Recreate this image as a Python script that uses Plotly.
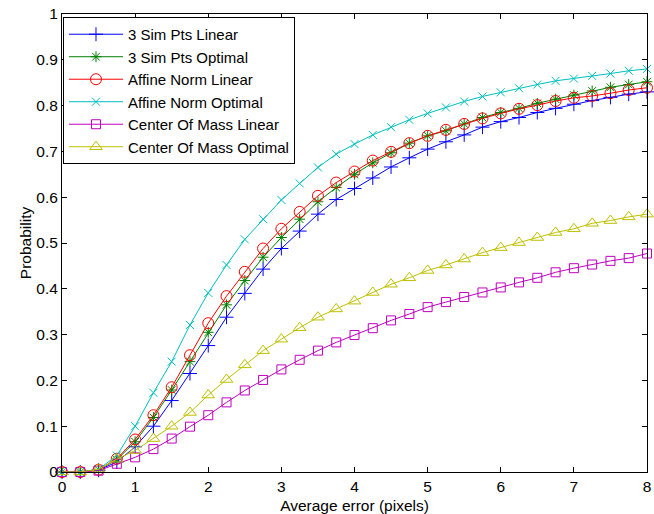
import plotly.graph_objects as go

x_vals = [0, 0.25, 0.5, 0.75, 1, 1.25, 1.5, 1.75, 2, 2.25, 2.5, 2.75, 3, 3.25, 3.5, 3.75,
          4, 4.25, 4.5, 4.75, 5, 5.25, 5.5, 5.75, 6, 6.25, 6.5, 6.75, 7, 7.25, 7.5, 7.75, 8]

sim_linear = [0, 0, 0.004, 0.022, 0.055, 0.100, 0.156, 0.215, 0.276, 0.338, 0.390, 0.443, 0.488,
              0.526, 0.563, 0.595, 0.619, 0.642, 0.666, 0.686, 0.705, 0.721, 0.736, 0.753, 0.765,
              0.774, 0.785, 0.794, 0.803, 0.811, 0.818, 0.825, 0.830]
sim_optimal = [0, 0, 0.005, 0.027, 0.066, 0.119, 0.179, 0.241, 0.305, 0.365, 0.418, 0.469, 0.512,
               0.552, 0.590, 0.621, 0.650, 0.675, 0.697, 0.718, 0.734, 0.745, 0.760, 0.774, 0.785,
               0.794, 0.805, 0.814, 0.823, 0.832, 0.840, 0.846, 0.852]
aff_linear = [0, 0, 0.005, 0.029, 0.071, 0.124, 0.185, 0.255, 0.325, 0.384, 0.437, 0.488, 0.531,
              0.568, 0.603, 0.632, 0.656, 0.680, 0.699, 0.718, 0.734, 0.747, 0.760, 0.772, 0.783,
              0.793, 0.801, 0.810, 0.817, 0.821, 0.827, 0.834, 0.839]
aff_optimal = [0, 0, 0.006, 0.036, 0.100, 0.173, 0.241, 0.321, 0.391, 0.452, 0.508, 0.552, 0.594,
               0.630, 0.665, 0.694, 0.716, 0.736, 0.753, 0.769, 0.783, 0.796, 0.809, 0.820, 0.829,
               0.838, 0.846, 0.854, 0.859, 0.865, 0.870, 0.876, 0.880]
com_linear = [0, 0, 0.003, 0.018, 0.032, 0.050, 0.073, 0.099, 0.124, 0.152, 0.178, 0.201, 0.224,
              0.245, 0.265, 0.283, 0.299, 0.314, 0.331, 0.345, 0.360, 0.371, 0.382, 0.392, 0.403,
              0.414, 0.424, 0.436, 0.445, 0.453, 0.461, 0.467, 0.477]
com_optimal = [0, 0, 0.006, 0.028, 0.047, 0.073, 0.100, 0.130, 0.168, 0.202, 0.234, 0.265, 0.290,
               0.315, 0.338, 0.356, 0.373, 0.392, 0.410, 0.424, 0.440, 0.452, 0.465, 0.479, 0.490,
               0.501, 0.512, 0.523, 0.531, 0.543, 0.549, 0.557, 0.563]

series_names = ["3 Sim Pts Linear", "3 Sim Pts Optimal", "Affine Norm Linear",
                "Affine Norm Optimal", "Center Of Mass Linear", "Center Of Mass Optimal"]
series_values = [sim_linear, sim_optimal, aff_linear, aff_optimal, com_linear, com_optimal]
colors = ["#0000FF", "#008000", "#FF0000", "#00BFBF", "#BF00BF", "#BFBF00"]
symbols = ["cross-thin-open", "asterisk-open", "circle-open", "x-thin-open",
           "square-open", "triangle-up-open"]
sizes = [10, 9, 11, 8, 9, 11]

x_ticks = [0, 1, 2, 3, 4, 5, 6, 7, 8]
x_ticktext = ["0", "1", "2", "3", "4", "5", "6", "7", "8"]
y_ticks = [0, 0.1, 0.2, 0.3, 0.4, 0.5, 0.6, 0.7, 0.8, 0.9, 1]
y_ticktext = ["0", "0.1", "0.2", "0.3", "0.4", "0.5", "0.6", "0.7", "0.8", "0.9", "1"]

fig = go.Figure()
for name, vals, c, sym, sz in zip(series_names, series_values, colors, symbols, sizes):
    fig.add_trace(go.Scatter(
        x=x_vals, y=vals, name=name, mode="lines+markers",
        line=dict(color=c, width=1),
        marker=dict(symbol=sym, size=sz, color=c, line=dict(color=c, width=1)),
        cliponaxis=False,
    ))

font = dict(family="Liberation Sans, Arial, sans-serif", size=15.5, color="black")
legend_font = dict(family="Liberation Sans, Arial, sans-serif", size=15, color="black")

fig.update_layout(
    width=654, height=514,
    margin=dict(l=62, r=7, t=14, b=42, autoexpand=False),
    paper_bgcolor="white", plot_bgcolor="white",
    font=font,
    showlegend=True,
    legend=dict(x=0.0017, y=0.9935, xanchor="left", yanchor="top",
                bgcolor="white", bordercolor="black", borderwidth=1,
                font=legend_font, itemwidth=54, tracegroupgap=0),
)
fig.update_xaxes(
    range=[0, 8], tickvals=x_ticks, ticktext=x_ticktext,
    showline=True, linecolor="black", linewidth=1, mirror="ticks",
    ticks="inside", ticklen=5, tickcolor="black", showgrid=False, zeroline=False,
    automargin=False, ticklabeloverflow="allow",
    title=dict(text="Average error (pixels)", standoff=6, font=font),
)
fig.update_yaxes(
    range=[0, 1], tickvals=y_ticks, ticktext=y_ticktext,
    showline=True, linecolor="black", linewidth=1, mirror="ticks",
    ticks="inside", ticklen=5, tickcolor="black", showgrid=False, zeroline=False,
    automargin=False, ticklabeloverflow="allow",
    title=dict(text="Probability", standoff=0, font=font),
)

# Remove the browser's default 8px body margin so the figure fills the window exactly.
fig.write_html("out.html", config={"displayModeBar": False},
               post_script="document.body.style.margin='0';")
